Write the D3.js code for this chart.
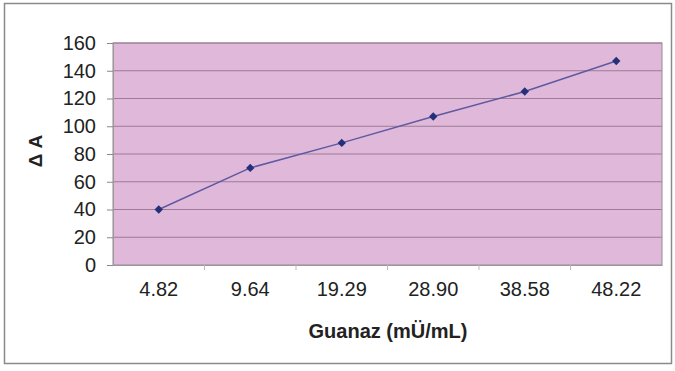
<!DOCTYPE html>
<html>
<head>
<meta charset="utf-8">
<script src="https://cdn.jsdelivr.net/npm/d3@7"></script>
<style>
  body { margin: 0; background: #fff; }
  text { font-family: Arial, "Liberation Sans", sans-serif; fill: #222; }
</style>
</head>
<body>
<svg width="675" height="371"></svg>
<script>
const categories = ["4.82", "9.64", "19.29", "28.90", "38.58", "48.22"]
const values = [40, 70, 88, 107, 125, 147]
const yTicks = [0, 20, 40, 60, 80, 100, 120, 140, 160]

const margin = {top: 43, right: 13, bottom: 106, left: 113}
const width = 675 - margin.left - margin.right
const height = 371 - margin.top - margin.bottom

const svg = d3.select("svg")

// outer frame
svg.append("rect")
	.attr("x", 4.5).attr("y", 3.5)
	.attr("width", 667).attr("height", 360)
	.attr("fill", "#fff")
	.attr("stroke", "#8a8a8a")
	.attr("stroke-width", 1.5)

const g = svg.append("g")
	.attr("transform", "translate(" + margin.left + "," + margin.top + ")")

const x = d3.scaleBand().domain(categories).range([0, width])
const y = d3.scaleLinear().domain([0, 160]).range([height, 0])

g.append("rect")
	.attr("width", width).attr("height", height)
	.attr("fill", "#e0b8da")
	.attr("stroke", "#9a8a98")

g.selectAll(".grid")
	.data(yTicks.slice(1))
	.enter().append("line")
	.attr("class", "grid")
	.attr("x1", 0).attr("x2", width)
	.attr("y1", d => y(d)).attr("y2", d => y(d))
	.attr("stroke", "#9c7c96")
	.attr("stroke-width", 1)

const yAxis = g.append("g")
	.call(d3.axisLeft(y).tickValues(yTicks).tickSize(6).tickPadding(11))
yAxis.select(".domain").attr("stroke", "#999")
yAxis.selectAll(".tick line").attr("stroke", "#888")
yAxis.selectAll("text").style("font-size", "20px").attr("fill", "#222")

const xAxis = g.append("g")
	.attr("transform", "translate(0," + height + ")")
	.call(d3.axisBottom(x).tickSize(0).tickPadding(17))
xAxis.select(".domain").attr("stroke", "#999")
xAxis.selectAll("text").style("font-size", "20px").attr("fill", "#222")
// category separators
g.selectAll(".sep")
	.data(categories.slice(1))
	.enter().append("line")
	.attr("x1", d => x(d)).attr("x2", d => x(d))
	.attr("y1", height).attr("y2", height + 5)
	.attr("stroke", "#bbb")

const line = d3.line()
	.x((d, i) => x(categories[i]) + x.bandwidth() / 2)
	.y(d => y(d))

g.append("path")
	.datum(values)
	.attr("fill", "none")
	.attr("stroke", "#5e5aa0")
	.attr("stroke-width", 1.5)
	.attr("d", line)

g.selectAll(".pt")
	.data(values)
	.enter().append("path")
	.attr("class", "pt")
	.attr("transform", (d, i) => "translate(" + (x(categories[i]) + x.bandwidth() / 2) + "," + y(d) + ")")
	.attr("d", d3.symbol(d3.symbolDiamond2, 45))
	.attr("fill", "#24307a")

svg.append("text")
	.attr("transform", "translate(42,151) rotate(-90)")
	.attr("text-anchor", "middle")
	.style("font-size", "19px")
	.style("font-weight", "bold")
	.text("Δ A")

svg.append("text")
	.attr("x", 388)
	.attr("y", 338)
	.attr("text-anchor", "middle")
	.style("font-size", "20px")
	.style("font-weight", "bold")
	.text("Guanaz (mÜ/mL)")
</script>
</body>
</html>
